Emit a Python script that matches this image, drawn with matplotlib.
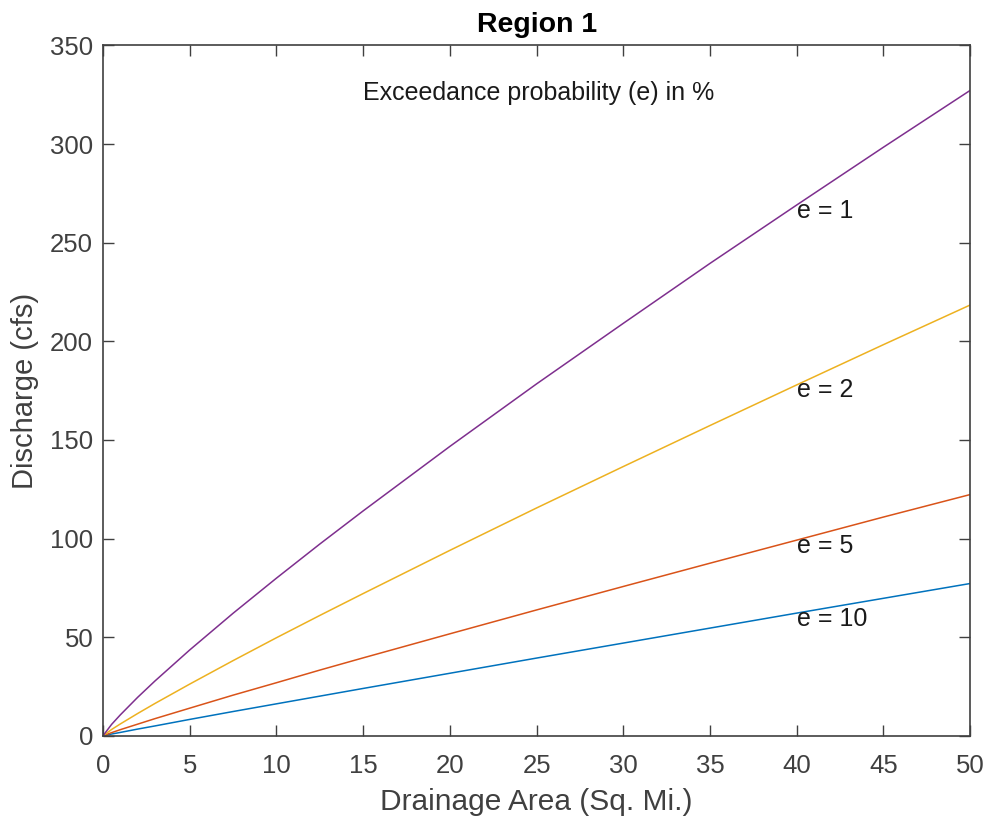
import numpy as np
import matplotlib
matplotlib.use('Agg')
import matplotlib.pyplot as plt

plt.rcParams['font.family'] = ['Liberation Sans', 'DejaVu Sans']

# drainage area (sq. mi.)
area = [0, 0.5, 1, 2, 3, 5, 7.5, 10, 12.5, 15, 20, 25, 30, 35, 40, 45, 50]

# discharge (cfs) for each exceedance probability
q_e1 = [0, 5.8, 10.6, 19.5, 27.8, 43.5, 62.1, 79.9, 97.2, 114.0, 146.7, 178.4, 209.1, 239.5, 269.1, 298.4, 327.2]
q_e2 = [0, 3.2, 6.0, 11.3, 16.4, 26.2, 38.1, 49.7, 61.0, 72.1, 94.0, 115.5, 136.5, 157.3, 177.9, 198.3, 218.4]
q_e5 = [0, 1.6, 3.1, 5.9, 8.7, 14.0, 20.6, 26.9, 33.3, 39.5, 51.7, 63.8, 75.7, 87.5, 99.2, 110.9, 122.3]
q_e10 = [0, 0.9, 1.7, 3.4, 5.0, 8.3, 12.3, 16.2, 20.1, 24.0, 31.7, 39.4, 47.0, 54.6, 62.2, 69.7, 77.2]

series = [(q_e10, '#0072BD', 'e = 10'),
          (q_e5, '#D95319', 'e = 5'),
          (q_e2, '#EDB120', 'e = 2'),
          (q_e1, '#7E2F8E', 'e = 1')]

label_x = 40
axcol = '#404040'

fig = plt.figure(figsize=(9.9, 8.18), dpi=100)
ax = fig.add_axes([0.104, 0.1005, 0.876, 0.844])

for q, c, lab in series:
    ax.plot(area, q, color=c, lw=1.1)
    ax.annotate(lab, (label_x, q[area.index(label_x)]), xytext=(0, -4),
                textcoords='offset points', ha='left', va='center',
                fontsize=18, color='#1a1a1a')

ax.text(15, 326, 'Exceedance probability (e) in %', ha='left', va='center',
        fontsize=18, color='#1a1a1a')

ax.set_xlim(0, 50)
ax.set_ylim(0, 350)
ax.set_xticks(np.arange(0, 51, 5))
ax.set_yticks(np.arange(0, 351, 50))
ax.tick_params(direction='in', length=8, width=1, colors=axcol, labelsize=18.5,
               top=True, right=True)
ax.tick_params(axis='x', pad=13)
ax.tick_params(axis='y', pad=7)
for s in ax.spines.values():
    s.set_color(axcol)
    s.set_linewidth(1.2)

ax.set_xlabel('Drainage Area (Sq. Mi.)', fontsize=21.5, color=axcol, labelpad=7)
ax.set_ylabel('Discharge (cfs)', fontsize=21, color=axcol, labelpad=8)
ax.set_title('Region 1', fontsize=20.5, fontweight='bold', color='black', pad=10)

plt.savefig('out.png', dpi=100)
